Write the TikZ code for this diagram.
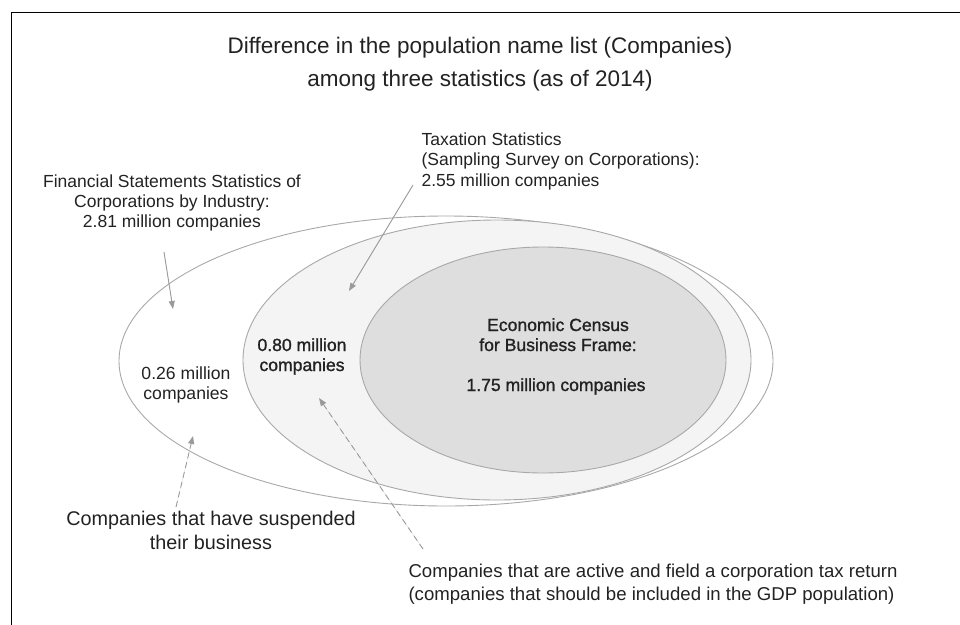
\documentclass[tikz,border=0pt]{standalone}
\usepackage{fontspec}
\setmainfont{Liberation Sans}
\newfontfamily\heavyface[FakeBold=1.2]{Liberation Sans}
\usepackage{xcolor}
\usepackage{tikz}
\usetikzlibrary{shapes.geometric, arrows.meta, positioning, calc}
\definecolor{rim}{HTML}{A8A8A8}
\definecolor{taxfill}{HTML}{F4F4F4}
\definecolor{censusfill}{HTML}{DEDEDE}
\definecolor{pointer}{HTML}{9A9A9A}
\definecolor{ink}{HTML}{222222}
\tikzset{
  frame/.style={draw=black, line width=1.6pt},
  setshape/.style={ellipse, draw=rim, line width=0.9pt, inner sep=0pt},
  heading/.style={align=center, anchor=base, text=ink, font=\fontsize{22.5}{33}\selectfont},
  caption/.style={align=center, anchor=base, text=ink, font=\fontsize{17.5}{20}\selectfont},
  count/.style={align=center, anchor=base, text=ink, font=\fontsize{17.6}{20}\selectfont},
  heavycount/.style={count, font=\fontsize{17.6}{20}\heavyface},
  note/.style={align=center, anchor=base, text=ink, font=\fontsize{19.8}{23.5}\selectfont},
  pointto/.style={-{Triangle[length=8pt,width=6pt]}, draw=pointer, fill=pointer, line width=0.9pt},
  dashto/.style={pointto, dash pattern=on 6pt off 4pt},
}

\begin{document}
\begin{tikzpicture}[x=1pt, y=-1pt]
  \useasboundingbox (0,0) rectangle (960,624);
  \draw[frame] (11.5,630) |- (965,12.5);

  \node[heading] (title) at (480,86) {Difference in the population name list (Companies)\\among three statistics (as of 2014)};

  \node[setshape, minimum width=654pt, minimum height=290pt] (fs) at (446,361) {};
  \node[setshape, fill=taxfill, minimum width=508pt, minimum height=280pt] (tax) at (497,360) {};
  \node[setshape, fill=censusfill, minimum width=366pt, minimum height=226pt] (census) at (543,360) {};

  \node[caption] (fslab) at (172,227) {Financial Statements Statistics of\\Corporations by Industry:\\2.81 million companies};
  \node[caption, align=left, font=\fontsize{17.5}{20.5}\selectfont, anchor=base west] (taxlab) at (418,186) {Taxation Statistics\\(Sampling Survey on Corporations):\\2.55 million companies};

  \node[count] (idle) at (186,399) {0.26 million\\companies};
  \node[heavycount] (gap) at (302,371) {0.80 million\\companies};
  \node[heavycount] (econ) at (558,351) {Economic Census\\for Business Frame:};
  \node[heavycount] (econn) at (556,391) {1.75 million companies};

  \node[note] (susp) at (211,549) {Companies that have suspended\\their business};
  \node[note, align=left, anchor=base west, font=\fontsize{18.6}{23}\selectfont] (active) at (405,600) {Companies that are active and field a corporation tax return\\(companies that should be included in the GDP population)};

  \coordinate (fsfrom) at (164,252);
  \coordinate (fsto) at (173,309);
  \coordinate (taxfrom) at (413,185);
  \coordinate (taxto) at (349,291);
  \coordinate (suspfrom) at (176,507);
  \coordinate (suspto) at (193,436);
  \coordinate (activefrom) at (423,549);
  \coordinate (activeto) at (319,398);

  \draw[pointto] (fsfrom) -- (fsto);
  \draw[pointto] (taxfrom) -- (taxto);
  \draw[dashto] (suspfrom) -- (suspto);
  \draw[dashto] (activefrom) -- (activeto);
\end{tikzpicture}
\end{document}
